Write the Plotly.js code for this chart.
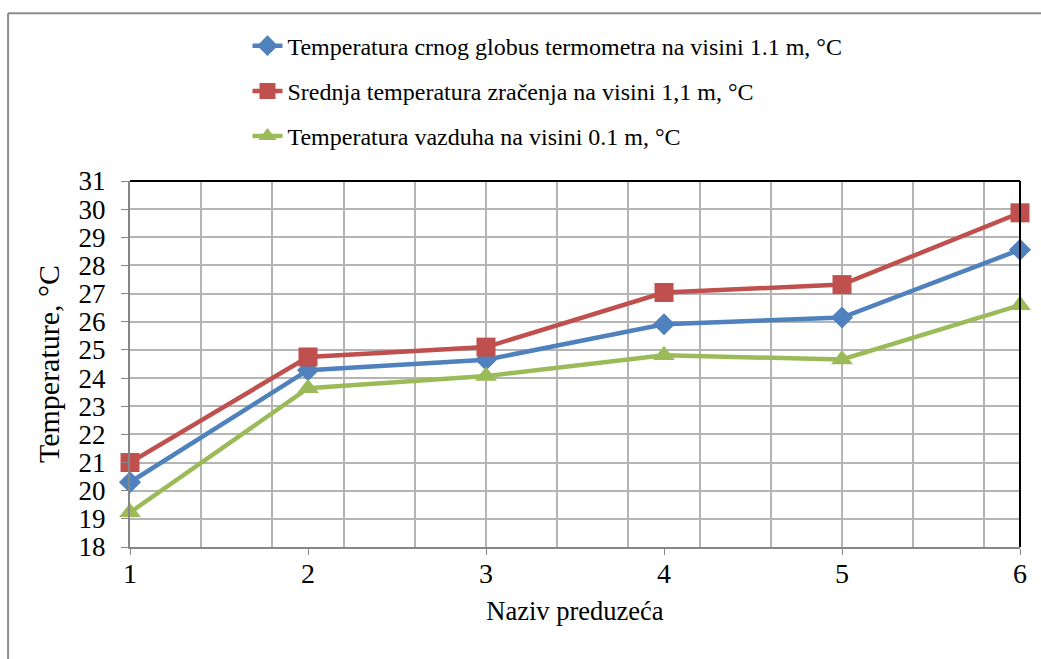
<!DOCTYPE html>
<html>
<head>
<meta charset="utf-8">
<script src="https://cdn.plot.ly/plotly-3.0.1.min.js"></script>
<style>
  body { margin: 0; background: #fff; }
  #chart { width: 1041px; height: 659px; }
</style>
</head>
<body>
<div id="chart"></div>
<script>
  // company number on the x axis
  const companies = [1, 2, 3, 4, 5, 6];

  const seriesNames = [
    'Temperatura crnog globus termometra na visini 1.1 m, °C',
    'Srednja temperatura zračenja na visini 1,1 m, °C',
    'Temperatura vazduha na visini 0.1 m, °C'
  ];

  const globeTemp = [20.3, 24.28, 24.65, 25.91, 26.15, 28.56];
  const radiantTemp = [21.0, 24.75, 25.1, 27.04, 27.32, 29.87];
  const airTemp = [19.23, 23.64, 24.07, 24.81, 24.66, 26.59];

  const yTicks = [18, 19, 20, 21, 22, 23, 24, 25, 26, 27, 28, 29, 30, 31];

  const serif = (size) => ({ family: 'Liberation Serif', size: size, color: '#000' });

  function line(name, y, color, symbol, size, group) {
    return {
      x: companies, y: y, name: name, type: 'scatter', mode: 'lines+markers',
      legendgroup: group, cliponaxis: false,
      line: { color: color, width: 4.5 },
      marker: { color: color, symbol: symbol, size: size }
    };
  }

  const data = [
    line(seriesNames[0], globeTemp, '#4F81BD', 'diamond', 17, 'a'),
    line(seriesNames[1], radiantTemp, '#C0504D', 'square', 19, 'b'),
    line(seriesNames[2], airTemp, '#9BBB59', 'triangle-up', 19, 'c')
  ];

  const layout = {
    width: 1041, height: 659,
    margin: { l: 130, r: 21, t: 181, b: 112 },
    paper_bgcolor: '#fff', plot_bgcolor: '#fff',
    font: serif(24),
    showlegend: true,
    legend: {
      x: 0.132, y: 1.43, xanchor: 'left', yanchor: 'top',
      tracegroupgap: 11, font: serif(24),
      bgcolor: 'rgba(0,0,0,0)'
    },
    xaxis: {
      range: [1, 6], tickvals: companies,
      showgrid: false, zeroline: false,
      ticks: 'outside', ticklen: 6, tickcolor: '#868686',
      showline: true, linecolor: '#868686', linewidth: 2,
      tickfont: serif(28), ticklabelstandoff: -6,
      minor: { tick0: 1, dtick: 0.4, showgrid: true, gridcolor: '#b4b4b4', gridwidth: 1.5, ticks: '' },
      title: { text: 'Naziv preduzeća', standoff: 14, font: serif(26.5) }
    },
    yaxis: {
      range: [18, 31], tickvals: yTicks,
      showgrid: true, gridcolor: '#b4b4b4', gridwidth: 1.5, zeroline: false,
      ticks: 'outside', ticklen: 7, tickcolor: '#868686',
      showline: true, linecolor: '#868686', linewidth: 2,
      tickfont: serif(27), ticklabelstandoff: 10,
      title: { text: 'Temperature, °C\u00a0\u00a0', standoff: 10, font: serif(30) }
    },
    shapes: [
      // top and right edges of the plot area
      { type: 'line', xref: 'paper', yref: 'paper', x0: 0, x1: 1, y0: 1, y1: 1,
        line: { color: '#000', width: 2 } },
      { type: 'line', xref: 'paper', yref: 'paper', x0: 1, x1: 1, y0: 0, y1: 1,
        line: { color: '#000', width: 2 } },
      // outer chart border, only left and top are in the picture
      { type: 'line', xref: 'paper', yref: 'paper', x0: -0.137, x1: 1.03, y0: 1.458, y1: 1.458,
        line: { color: '#8c8c8c', width: 2 } },
      { type: 'line', xref: 'paper', yref: 'paper', x0: -0.137, x1: -0.137, y0: -0.32, y1: 1.458,
        line: { color: '#8c8c8c', width: 2 } }
    ]
  };

  Plotly.newPlot('chart', data, layout, { displayModeBar: false, responsive: false });
</script>
</body>
</html>
